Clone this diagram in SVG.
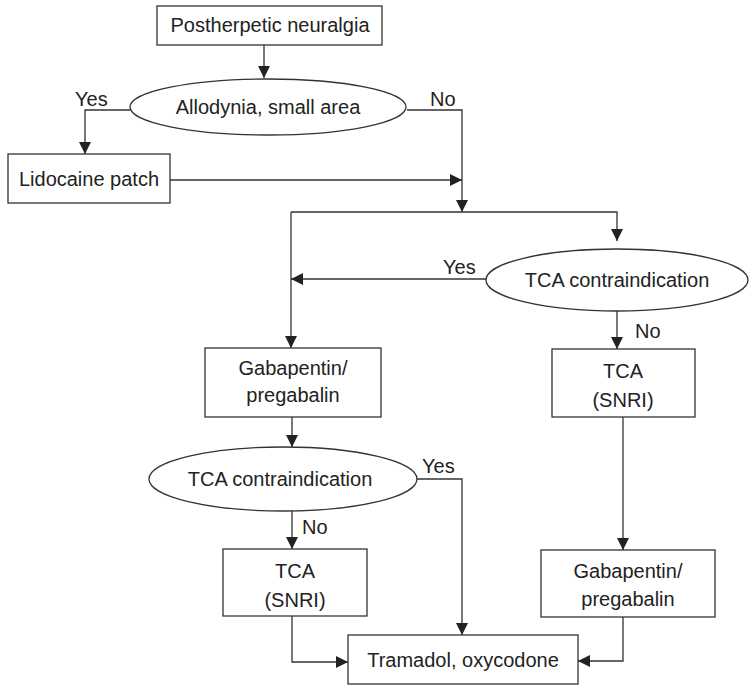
<svg xmlns="http://www.w3.org/2000/svg" width="750" height="686" viewBox="0 0 750 686">
<style>
.n{fill:#fff;stroke:#333;stroke-width:1.3}
.t{font-family:"Liberation Sans",Arial,sans-serif;font-size:20px;fill:#222;text-anchor:middle}
.l{font-family:"Liberation Sans",Arial,sans-serif;font-size:20px;fill:#222}
.c{fill:none;stroke:#333;stroke-width:1.3}
</style>
<defs>
<marker id="a" markerUnits="userSpaceOnUse" markerWidth="12" markerHeight="12" refX="12" refY="6" orient="auto">
<path d="M0,0 L12,6 L0,12 z" fill="#222"/>
</marker>
</defs>
<rect width="750" height="686" fill="#fff"/>
<g id="connectors">
<path class="c" d="M264,45 V78" marker-end="url(#a)"/>
<path class="c" d="M130,110 H85 V154" marker-end="url(#a)"/>
<path class="c" d="M407,110 H462 V212" marker-end="url(#a)"/>
<path class="c" d="M170,180 H462" marker-end="url(#a)"/>
<path class="c" d="M291,212 H617 V241" marker-end="url(#a)"/>
<path class="c" d="M291,212 V348" marker-end="url(#a)"/>
<path class="c" d="M486,279 H291" marker-end="url(#a)"/>
<path class="c" d="M617,311 V349" marker-end="url(#a)"/>
<path class="c" d="M292,417 V447" marker-end="url(#a)"/>
<path class="c" d="M417,479 H462 V635" marker-end="url(#a)"/>
<path class="c" d="M292,510 V549" marker-end="url(#a)"/>
<path class="c" d="M292,616 V662 H348" marker-end="url(#a)"/>
<path class="c" d="M623,417 V550" marker-end="url(#a)"/>
<path class="c" d="M623,617 V661 H578" marker-end="url(#a)"/>
<text class="l" x="75" y="106">Yes</text>
<text class="l" x="430" y="106">No</text>
<text class="l" x="443" y="274">Yes</text>
<text class="l" x="635" y="338">No</text>
<text class="l" x="422" y="473">Yes</text>
<text class="l" x="302" y="534">No</text>
</g>
<g id="n1"><rect class="n" x="157" y="6" width="225" height="39"/><text class="t" x="270" y="32">Postherpetic neuralgia</text></g>
<g id="n2"><ellipse class="n" cx="268" cy="107" rx="138" ry="28"/><text class="t" x="268" y="114">Allodynia, small area</text></g>
<g id="n3"><rect class="n" x="8" y="154" width="162" height="49"/><text class="t" x="89" y="186">Lidocaine patch</text></g>
<g id="n4"><ellipse class="n" cx="617" cy="280" rx="131" ry="31"/><text class="t" x="617" y="287">TCA contraindication</text></g>
<g id="n5"><rect class="n" x="205" y="348" width="176" height="69"/><text class="t" x="293" y="375">Gabapentin/</text><text class="t" x="293" y="402">pregabalin</text></g>
<g id="n6"><rect class="n" x="552" y="349" width="143" height="68"/><text class="t" x="623" y="378">TCA</text><text class="t" x="623" y="407">(SNRI)</text></g>
<g id="n7"><ellipse class="n" cx="283" cy="479" rx="134" ry="32"/><text class="t" x="280" y="486">TCA contraindication</text></g>
<g id="n8"><rect class="n" x="223" y="549" width="144" height="67"/><text class="t" x="295" y="578">TCA</text><text class="t" x="295" y="607">(SNRI)</text></g>
<g id="n9"><rect class="n" x="541" y="550" width="174" height="67"/><text class="t" x="628" y="578">Gabapentin/</text><text class="t" x="628" y="606">pregabalin</text></g>
<g id="n10"><rect class="n" x="348" y="635" width="230" height="49"/><text class="t" x="463" y="667">Tramadol, oxycodone</text></g>
</svg>
